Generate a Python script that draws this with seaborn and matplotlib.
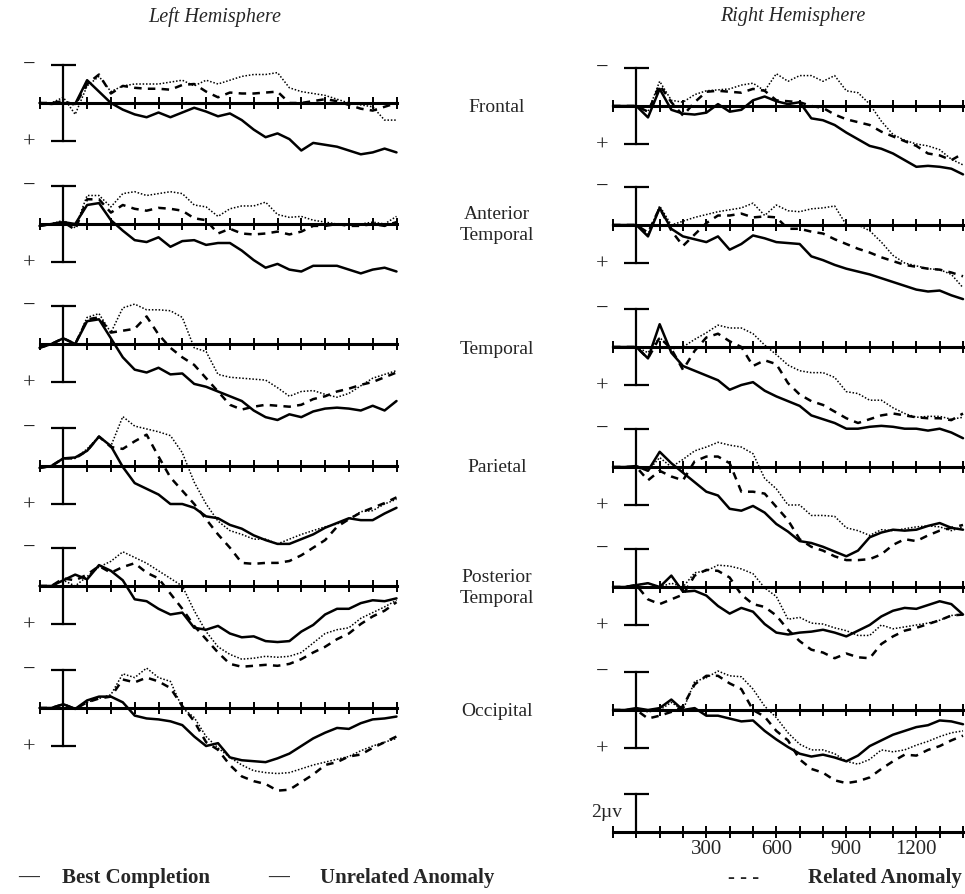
import matplotlib.pyplot as plt
import seaborn as sns

# time axis (ms) and ERP amplitudes (microvolts, negative plotted up)
times = list(range(-100, 1401, 50))

# Left hemisphere
lf_best = [0.0, 0.05, 0.0, 0.05, -1.2, -0.6, 0.0, 0.35, 0.6, 0.75, 0.5, 0.75, 0.5, 0.25, 0.45, 0.7, 0.55, 0.9, 1.4, 1.8, 1.6, 1.9, 2.5, 2.1, 2.2, 2.3, 2.5, 2.7, 2.6, 2.4, 2.6]
lf_unrel = [0.0, 0.0, -0.3, 0.6, -0.9, -1.4, -0.6, -0.9, -1.0, -1.0, -1.0, -1.1, -1.2, -0.9, -1.2, -1.0, -1.2, -1.4, -1.5, -1.5, -1.6, -0.8, -0.6, -0.5, -0.4, -0.2, 0.0, 0.1, 0.2, 0.9, 0.9]
lf_rel = [0.0, 0.0, -0.1, 0.1, -1.0, -1.5, -0.5, -0.9, -0.8, -0.75, -0.75, -0.7, -0.95, -1.0, -0.6, -0.3, -0.55, -0.5, -0.5, -0.55, -0.6, 0.0, 0.0, -0.1, -0.2, -0.1, 0.1, 0.3, 0.4, 0.2, 0.0]

la_best = [0.1, 0.0, -0.1, 0.0, -1.0, -1.1, -0.2, 0.35, 0.85, 0.95, 0.7, 1.2, 0.9, 0.85, 1.1, 1.0, 1.0, 1.4, 1.9, 2.3, 2.1, 2.4, 2.5, 2.2, 2.2, 2.2, 2.4, 2.6, 2.4, 2.3, 2.5]
la_unrel = [0.1, 0.0, -0.2, 0.2, -1.5, -1.5, -0.9, -1.6, -1.7, -1.5, -1.6, -1.7, -1.6, -1.0, -0.9, -0.4, -0.8, -0.95, -0.95, -1.15, -0.5, -0.35, -0.4, -0.2, -0.1, 0.0, 0.0, 0.0, -0.1, 0.0, -0.4]
la_rel = [0.1, 0.0, -0.1, 0.3, -1.3, -1.3, -0.6, -1.0, -0.8, -0.7, -0.85, -0.8, -0.7, -0.3, -0.2, 0.5, 0.25, 0.5, 0.55, 0.5, 0.4, 0.55, 0.4, 0.1, 0.1, 0.0, 0.1, 0.1, 0.0, 0.1, -0.1]

lt_best = [0.2, 0.0, -0.3, 0.0, -1.2, -1.3, -0.3, 0.7, 1.35, 1.5, 1.25, 1.6, 1.55, 2.1, 2.25, 2.5, 2.75, 3.0, 3.5, 3.85, 4.0, 3.7, 3.85, 3.55, 3.4, 3.35, 3.4, 3.5, 3.25, 3.5, 3.0]
lt_unrel = [0.2, 0.0, -0.3, 0.0, -1.4, -1.6, -0.6, -1.9, -2.1, -1.8, -1.8, -1.75, -1.4, 0.2, 0.4, 1.6, 1.75, 1.8, 1.85, 1.9, 2.3, 2.75, 2.5, 2.45, 2.65, 2.8, 2.6, 2.2, 1.8, 1.6, 1.4]
lt_rel = [0.2, 0.0, -0.3, 0.0, -1.3, -1.4, -0.6, -0.7, -0.8, -1.45, -0.5, 0.2, 0.7, 1.1, 1.8, 2.5, 3.2, 3.45, 3.3, 3.2, 3.25, 3.3, 3.2, 2.9, 2.75, 2.5, 2.35, 2.15, 2.0, 1.75, 1.5]

lp_best = [0.1, 0.0, -0.4, -0.45, -0.8, -1.55, -1.05, 0.05, 0.9, 1.2, 1.5, 2.0, 2.0, 2.2, 2.65, 2.75, 3.1, 3.3, 3.65, 3.9, 4.1, 4.1, 3.85, 3.6, 3.25, 3.0, 2.75, 2.85, 2.85, 2.5, 2.2]
lp_unrel = [0.1, 0.0, -0.4, -0.4, -0.9, -1.55, -1.05, -2.6, -2.1, -1.95, -1.8, -1.6, -0.7, 0.85, 2.0, 2.9, 3.4, 3.6, 3.85, 3.85, 4.1, 3.85, 3.6, 3.4, 3.2, 3.05, 2.8, 2.4, 2.35, 2.0, 1.75]
lp_rel = [0.1, 0.0, -0.4, -0.4, -0.8, -1.55, -1.0, -0.9, -1.3, -1.65, -0.5, 0.6, 1.3, 2.0, 2.8, 3.6, 4.3, 5.1, 5.15, 5.1, 5.1, 5.0, 4.7, 4.3, 3.9, 3.2, 2.8, 2.45, 2.2, 1.95, 1.65]

lpt_best = [0.0, 0.0, -0.3, -0.6, -0.35, -1.1, -0.8, -0.3, 0.7, 0.8, 1.2, 1.5, 1.4, 2.2, 2.3, 2.1, 2.5, 2.7, 2.65, 2.9, 2.95, 2.9, 2.4, 2.05, 1.5, 1.2, 1.2, 0.9, 0.75, 0.8, 0.65]
lpt_unrel = [0.0, 0.0, -0.3, 0.0, -0.5, -1.0, -1.3, -1.8, -1.5, -1.2, -0.8, -0.4, 0.0, 1.3, 2.4, 3.2, 3.6, 3.85, 3.8, 3.7, 3.75, 3.7, 3.5, 3.0, 2.5, 2.3, 2.2, 1.7, 1.4, 1.1, 0.75]
lpt_rel = [0.0, 0.0, -0.4, -0.3, -0.6, -1.05, -0.7, -1.0, -1.2, -0.7, -0.4, 0.4, 1.2, 2.1, 2.8, 3.5, 4.1, 4.25, 4.2, 4.15, 4.2, 4.1, 3.85, 3.5, 3.2, 2.8, 2.5, 2.0, 1.6, 1.3, 0.85]

lo_best = [0.0, 0.0, -0.2, 0.05, -0.4, -0.6, -0.6, -0.3, 0.4, 0.55, 0.6, 0.7, 0.9, 1.5, 2.0, 1.85, 2.6, 2.75, 2.8, 2.85, 2.65, 2.4, 2.0, 1.6, 1.3, 1.05, 1.1, 0.8, 0.6, 0.55, 0.45]
lo_unrel = [0.0, 0.0, -0.2, 0.05, -0.3, -0.5, -0.7, -1.8, -1.6, -2.1, -1.6, -1.4, 0.0, 0.5, 1.5, 2.1, 2.6, 3.0, 3.3, 3.4, 3.45, 3.4, 3.2, 3.0, 2.85, 2.7, 2.55, 2.25, 2.0, 1.8, 1.6]
lo_rel = [0.0, 0.0, -0.2, 0.05, -0.3, -0.5, -0.6, -1.5, -1.35, -1.6, -1.4, -1.05, -0.1, 0.7, 1.8, 2.2, 3.0, 3.6, 3.85, 4.0, 4.35, 4.3, 3.9, 3.5, 3.0, 2.85, 2.55, 2.45, 2.1, 1.8, 1.5]

# Right hemisphere
rf_best = [0.0, 0.0, 0.0, 0.6, -0.9, 0.2, 0.4, 0.45, 0.35, -0.1, 0.3, 0.2, -0.3, -0.5, -0.25, -0.1, -0.2, 0.65, 0.75, 1.0, 1.4, 1.75, 2.1, 2.25, 2.5, 2.85, 3.2, 3.15, 3.2, 3.3, 3.6]
rf_unrel = [0.0, 0.0, 0.0, 0.3, -1.3, -0.3, -0.2, -0.6, -0.8, -0.85, -0.9, -1.1, -1.2, -0.8, -1.7, -1.3, -1.6, -1.6, -1.3, -1.6, -0.8, -0.7, -0.1, 0.8, 1.5, 1.8, 2.0, 2.1, 2.3, 2.8, 3.1]
rf_rel = [0.0, 0.0, 0.0, 0.3, -1.1, -0.2, 0.5, -0.2, -0.75, -0.8, -0.75, -0.7, -0.9, -0.8, -0.3, -0.25, -0.2, 0.0, 0.1, 0.45, 0.7, 0.85, 1.0, 1.35, 1.6, 1.85, 2.1, 2.5, 2.6, 2.85, 2.5]

ra_best = [0.0, 0.0, 0.0, 0.6, -0.9, 0.2, 0.6, 0.75, 0.9, 0.6, 1.3, 1.0, 0.55, 0.7, 0.9, 0.95, 1.0, 1.65, 1.85, 2.1, 2.3, 2.45, 2.6, 2.8, 3.0, 3.2, 3.4, 3.5, 3.45, 3.7, 3.9]
ra_unrel = [0.0, 0.0, 0.0, 0.5, -1.0, 0.0, -0.2, -0.4, -0.55, -0.7, -0.8, -0.9, -1.15, -0.5, -1.05, -0.75, -0.7, -0.85, -0.9, -1.0, 0.0, 0.0, 0.3, 0.9, 1.6, 2.0, 2.15, 2.3, 2.35, 2.6, 3.3]
ra_rel = [0.0, 0.0, 0.0, 0.4, -0.9, 0.3, 1.1, 0.5, -0.1, -0.5, -0.5, -0.6, -0.4, -0.45, -0.4, 0.2, 0.2, 0.35, 0.45, 0.75, 1.0, 1.25, 1.45, 1.7, 1.9, 2.1, 2.2, 2.3, 2.35, 2.5, 2.7]

rt_best = [0.0, 0.0, 0.0, 0.6, -1.2, 0.3, 1.0, 1.25, 1.5, 1.75, 2.25, 2.0, 1.85, 2.3, 2.6, 2.85, 3.1, 3.6, 3.8, 4.0, 4.3, 4.3, 4.2, 4.15, 4.2, 4.3, 4.3, 4.4, 4.3, 4.5, 4.8]
rt_unrel = [0.0, 0.0, 0.0, 0.3, -0.5, 0.1, 0.0, -0.4, -0.75, -1.15, -1.0, -1.0, -0.7, -0.1, 0.4, 0.95, 1.25, 1.35, 1.35, 1.6, 2.35, 2.45, 2.8, 2.8, 3.2, 3.5, 3.7, 3.65, 3.65, 3.8, 3.7]
rt_rel = [0.0, 0.0, 0.0, 0.6, -0.5, 0.1, 1.2, 0.2, -0.5, -0.7, -0.3, 0.0, 1.0, 0.7, 0.9, 1.9, 2.5, 2.85, 3.05, 3.4, 3.75, 4.0, 3.8, 3.6, 3.5, 3.6, 3.7, 3.75, 3.75, 3.85, 3.5]

rp_best = [0.0, 0.0, -0.05, 0.2, -0.8, -0.2, 0.3, 0.8, 1.3, 1.5, 2.2, 2.3, 2.05, 2.4, 3.0, 3.4, 3.9, 4.0, 4.2, 4.45, 4.7, 4.4, 3.7, 3.45, 3.3, 3.35, 3.3, 3.1, 2.95, 3.2, 3.3]
rp_unrel = [0.0, 0.0, 0.0, 0.2, -0.5, 0.0, -0.4, -0.85, -1.05, -1.3, -1.15, -1.05, -0.7, 0.6, 1.15, 2.0, 2.0, 2.55, 2.55, 2.6, 3.2, 3.35, 3.6, 3.3, 3.35, 3.25, 3.15, 3.1, 3.15, 3.35, 3.15]
rp_rel = [0.0, 0.0, 0.0, 0.7, 0.2, 0.5, 0.7, -0.3, -0.55, -0.55, -0.2, 1.3, 1.3, 1.4, 2.1, 2.8, 3.8, 4.2, 4.4, 4.7, 4.9, 4.9, 4.85, 4.6, 4.1, 3.8, 3.9, 3.6, 3.35, 3.2, 3.05]

rpt_best = [0.0, 0.0, -0.1, -0.2, 0.0, -0.6, 0.25, 0.2, 0.45, 1.0, 1.4, 1.1, 1.3, 1.95, 2.4, 2.5, 2.4, 2.35, 2.25, 2.4, 2.6, 2.3, 2.0, 1.55, 1.25, 1.1, 1.15, 0.95, 0.75, 0.9, 1.45]
rpt_unrel = [0.0, 0.0, -0.1, -0.2, 0.0, -0.2, 0.0, -0.75, -0.85, -1.15, -1.1, -0.95, -0.7, 0.05, 0.5, 1.7, 1.6, 1.9, 1.95, 2.15, 2.3, 2.55, 2.55, 2.0, 2.2, 2.1, 2.0, 1.9, 1.75, 1.5, 1.45]
rpt_rel = [0.0, 0.0, -0.1, 0.65, 0.9, 0.65, 0.4, -0.6, -0.9, -0.85, -0.5, 0.4, 0.9, 1.05, 1.5, 2.25, 2.85, 3.3, 3.45, 3.75, 3.5, 3.7, 3.75, 3.0, 2.6, 2.3, 2.15, 1.95, 1.75, 1.5, 1.45]

ro_best = [0.0, 0.0, -0.1, 0.0, -0.1, -0.55, 0.0, -0.1, 0.3, 0.3, 0.45, 0.6, 0.55, 1.1, 1.55, 1.95, 2.3, 2.45, 2.35, 2.5, 2.7, 2.4, 1.9, 1.6, 1.3, 1.1, 0.9, 0.8, 0.55, 0.6, 0.75]
ro_unrel = [0.0, 0.0, -0.05, 0.1, 0.0, -0.4, 0.0, -1.5, -1.7, -2.05, -1.8, -1.75, -1.1, -0.2, 0.4, 1.2, 1.8, 2.1, 2.1, 2.3, 2.7, 2.85, 2.6, 2.1, 2.2, 2.1, 1.85, 1.65, 1.4, 1.2, 1.1]
ro_rel = [0.0, 0.0, 0.0, 0.45, 0.3, 0.1, -0.2, -1.35, -1.8, -1.8, -1.4, -1.1, 0.0, 0.35, 1.1, 1.6, 2.6, 3.1, 3.3, 3.7, 3.85, 3.75, 3.55, 3.1, 2.7, 2.35, 2.4, 2.1, 1.9, 1.6, 1.35]

regions = ['Frontal', 'Anterior\nTemporal', 'Temporal', 'Parietal', 'Posterior\nTemporal', 'Occipital']
left_data = [(lf_best, lf_unrel, lf_rel), (la_best, la_unrel, la_rel), (lt_best, lt_unrel, lt_rel),
             (lp_best, lp_unrel, lp_rel), (lpt_best, lpt_unrel, lpt_rel), (lo_best, lo_unrel, lo_rel)]
right_data = [(rf_best, rf_unrel, rf_rel), (ra_best, ra_unrel, ra_rel), (rt_best, rt_unrel, rt_rel),
              (rp_best, rp_unrel, rp_rel), (rpt_best, rpt_unrel, rpt_rel), (ro_best, ro_unrel, ro_rel)]
scale_labels = {300: '300', 600: '600', 900: '900', 1200: '1200'}

sns.set_style('white')
plt.rcParams['font.family'] = ['Liberation Serif', 'DejaVu Serif']

W, H = 965, 894
fig = plt.figure(figsize=(W / 100, H / 100), dpi=100)

line_styles = [dict(linestyle='-', lw=1.8),
               dict(linestyle=(0, (1, 1.2)), lw=1.1),
               dict(linestyle=(0, (3, 2.5)), lw=1.8)]

# layout in pixels
left_x, left_w = 39.5, 357
right_x, right_w = 613, 350
left_base = [103, 224, 344, 466, 586, 708]
right_base = [106, 225, 347, 467, 587, 710]
row_label_y = [108, 225, 349, 468, 588, 711]
px_per_uv = 19


def make_axes(x0, w, base):
    h = 7 * px_per_uv
    ax = fig.add_axes([x0 / W, 1 - (base + h / 2) / H, w / W, h / H])
    ax.set_facecolor('none')
    return ax


def style_axes(ax, ybar=(-2, 2)):
    ax.set_xlim(-100, 1400)
    ax.set_ylim(3.5, -3.5)
    ax.set_xlabel('')
    ax.set_ylabel('')
    for s in ['top', 'right']:
        ax.spines[s].set_visible(False)
    ax.spines['bottom'].set_position(('data', 0))
    ax.spines['bottom'].set_linewidth(2.2)
    ax.spines['bottom'].set_color('black')
    ax.spines['left'].set_position(('data', 0))
    ax.spines['left'].set_bounds(*ybar)
    ax.spines['left'].set_linewidth(1.6)
    ax.spines['left'].set_color('black')
    ax.set_xticks(range(-100, 1401, 100))
    ax.set_yticks([v for v in ybar if v != 0])
    ax.tick_params(axis='x', bottom=True, direction='inout', length=8, width=1.4,
                   labelbottom=False, color='black')
    ax.tick_params(axis='y', left=True, direction='inout', length=18, width=1.6,
                   labelleft=False, color='black')


for col, (x0, w, bases, data) in enumerate([(left_x, left_w, left_base, left_data),
                                            (right_x, right_w, right_base, right_data)]):
    for row, (base, traces) in enumerate(zip(bases, data)):
        ax = make_axes(x0, w, base)
        for vals, st in zip(traces, line_styles):
            sns.lineplot(x=times, y=vals, ax=ax, color='black', clip_on=False, **st)
        style_axes(ax)
        ax.text(-145, -2, '\u2212', ha='center', va='center', fontsize=16)
        ax.text(-145, 2.1, '+', ha='center', va='center', fontsize=16)

for label, y in zip(regions, row_label_y):
    fig.text(497 / W, 1 - y / H, label, ha='center', va='center', fontsize=14, linespacing=1.25)

# scale axis
ax = make_axes(right_x, right_w, 832)
style_axes(ax, ybar=(-2, 0))
ax.set_xticklabels([scale_labels.get(t, '') for t in range(-100, 1401, 100)])
ax.tick_params(axis='x', labelbottom=True, labelsize=15, pad=2)
ax.text(-62, -1.05, '2\u00b5v', ha='right', va='center', fontsize=14)

fig.text(215 / W, 1 - 17 / H, 'Left Hemisphere', ha='center', va='center', fontsize=14.5, style='italic')
fig.text(793 / W, 1 - 17 / H, 'Right Hemisphere', ha='center', va='center', fontsize=14.5, style='italic')

legend_items = [(18, '\u2014', 62, 'Best Completion'),
                (268, '\u2014', 320, 'Unrelated Anomaly'),
                (728, '- - -', 808, 'Related Anomaly')]
for xm, mark, xl, lab in legend_items:
    fig.text(xm / W, 1 - 878 / H, mark, ha='left', va='center', fontsize=15, fontweight='bold')
    fig.text(xl / W, 1 - 878 / H, lab, ha='left', va='center', fontsize=15, fontweight='bold')

fig.savefig('out.png', dpi=100, facecolor='white')
